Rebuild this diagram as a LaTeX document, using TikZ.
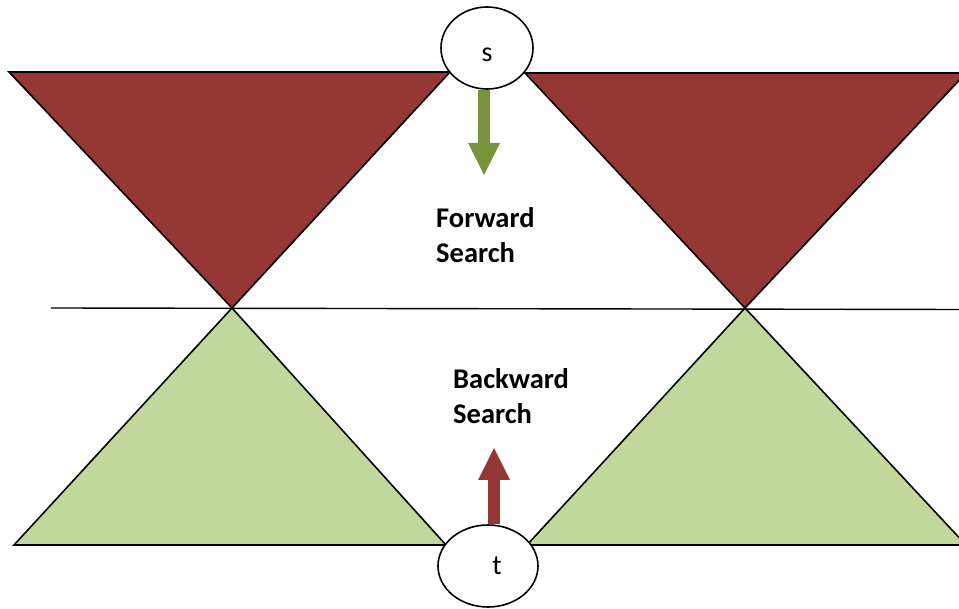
\documentclass[tikz,border=0pt]{standalone}
\usepackage{fontspec}
\setmainfont{Carlito}
\usetikzlibrary{shapes.geometric,arrows.meta}

\definecolor{conered}{HTML}{953735}
\definecolor{conegreen}{HTML}{C3D69B}
\definecolor{arrowgreen}{HTML}{77933C}
\definecolor{arrowred}{HTML}{953735}

\tikzset{
  cone/.style      = {draw=black, line width=1.6pt, line join=miter},
  endpoint/.style  = {draw=black, fill=white, line width=1.6pt, ellipse,
                      inner sep=0pt, font=\fontsize{28}{34}\selectfont},
  searchlabel/.style = {anchor=north west, align=left, inner sep=0pt,
                      font=\fontsize{28.5}{35.5}\selectfont\bfseries},
  blockarrow/.style = {line width=12pt,
                      -{Triangle[width=32pt, length=32pt, line width=0pt]}}
}

\begin{document}
\begin{tikzpicture}[x=1pt, y=-1pt]
  \useasboundingbox (0,0) rectangle (959,609);
  \clip (0,0) rectangle (959,609);
  % forward cones
  \filldraw[cone, fill=conered] (9,72) -- (450,72) -- (232,308) -- cycle;
  \filldraw[cone, fill=conered] (525,73) -- (966,73) -- (745,308) -- cycle;
  % backward cones
  \filldraw[cone, fill=conegreen] (14,545) -- (446,545) -- (232,308) -- cycle;
  \filldraw[cone, fill=conegreen] (527,545) -- (966,545) -- (745,308) -- cycle;
  % middle line
  \draw[line width=1.4pt] (51,308) -- (965,309.5);

  \node[endpoint, minimum width=92pt, minimum height=82pt,
        text height=27pt, text depth=0pt] (s) at (487,48) {s};
  \node[endpoint, minimum width=100pt, minimum height=82pt] (t) at (488,566) {\hspace{18pt}t};

  \coordinate (ftip) at (484,175);
  \coordinate (btip) at (494,448);
  \draw[blockarrow, arrowgreen] (ftip |- s.south) -- (ftip);
  \draw[blockarrow, arrowred] (btip |- t.north) -- (btip);

  \node[searchlabel] (fwd) at (436,207) {Forward\\Search};
  \node[searchlabel] (bwd) at (453,368) {Backward\\Search};
\end{tikzpicture}
\end{document}
